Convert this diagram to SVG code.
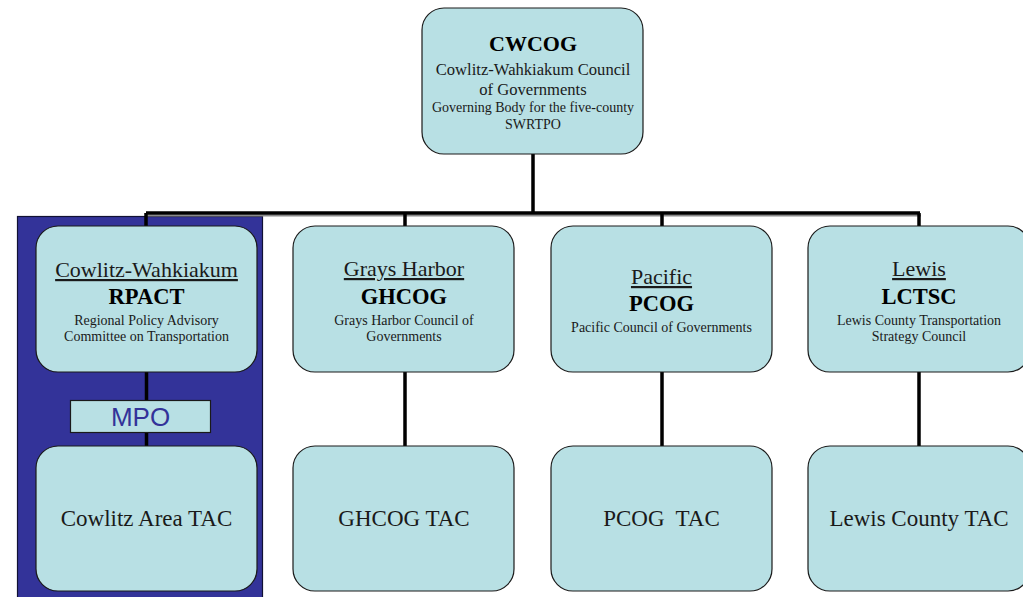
<svg xmlns="http://www.w3.org/2000/svg" width="1023" height="597" viewBox="0 0 1023 597">
<style>
.box{fill:#b8e0e4;stroke:#1a1a1a;stroke-width:1.2}
.t{font-family:"Liberation Serif","DejaVu Serif","Times New Roman",serif;fill:#1a1a1a;text-anchor:middle}
.b{font-weight:bold;font-size:22.5px;fill:#000}
.bt{font-weight:bold;font-size:22px;fill:#000}
.m{font-size:16.6px}
.u{font-size:22px;text-decoration:underline}
.s{font-size:14px}
.l{font-size:23px}
.con{stroke:#000;stroke-width:3.5;fill:none}
.sh{stroke:#8a8a8a;stroke-width:2;fill:none}
</style>
<rect width="1023" height="597" fill="#fff"/>
<g id="mpo-panel">
<rect x="17.5" y="216.5" width="245" height="385" fill="#333399" stroke="#111133" stroke-width="1.2"/>
</g>
<g id="connectors">
<path class="sh" d="M147 215.5 H921"/>
<path class="con" d="M533 154 V213 M146 213 H920 M146 213 V226 M405 213 V226 M662 213 V226 M919 213 V226"/>
<path class="con" d="M146.5 372 V446 M405 372 V446 M662 372 V446 M919 372 V446"/>
</g>
<g id="cwcog">
<rect class="box" x="422" y="8" width="221" height="146" rx="22"/>
<text class="t bt" x="533" y="51">CWCOG</text>
<text class="t m" x="533" y="75">Cowlitz-Wahkiakum Council</text>
<text class="t m" x="533" y="95">of Governments</text>
<text class="t s" x="533" y="112">Governing Body for the five-county</text>
<text class="t s" x="533" y="129">SWRTPO</text>
</g>
<g id="rpact">
<rect class="box" x="36" y="226" width="221" height="146" rx="22"/>
<text class="t u" x="146.5" y="277">Cowlitz-Wahkiakum</text>
<text class="t b" x="146.5" y="304">RPACT</text>
<text class="t s" x="146.5" y="325">Regional Policy Advisory</text>
<text class="t s" x="146.5" y="341">Committee on Transportation</text>
</g>
<g id="ghcog">
<rect class="box" x="293" y="226" width="221" height="146" rx="22"/>
<text class="t u" x="404" y="276">Grays Harbor</text>
<text class="t b" x="404" y="304">GHCOG</text>
<text class="t s" x="404" y="325">Grays Harbor Council of</text>
<text class="t s" x="404" y="341">Governments</text>
</g>
<g id="pcog">
<rect class="box" x="551" y="226" width="221" height="146" rx="22"/>
<text class="t u" x="661.5" y="284">Pacific</text>
<text class="t b" x="661.5" y="311">PCOG</text>
<text class="t s" x="661.5" y="332">Pacific Council of Governments</text>
</g>
<g id="lctsc">
<rect class="box" x="808" y="226" width="222" height="146" rx="22"/>
<text class="t u" x="919" y="276">Lewis</text>
<text class="t b" x="919" y="304">LCTSC</text>
<text class="t s" x="919" y="325">Lewis County Transportation</text>
<text class="t s" x="919" y="341">Strategy Council</text>
</g>
<g id="mpo">
<rect x="70.5" y="400.5" width="140" height="32" fill="#b8e0e4" stroke="#1a1a1a" stroke-width="1.2"/>
<text x="140.5" y="426" font-family="Liberation Sans,Arial,sans-serif" font-size="26" fill="#333399" text-anchor="middle">MPO</text>
</g>
<g id="cowlitz-tac">
<rect class="box" x="36" y="446" width="221" height="145" rx="22"/>
<text class="t l" x="146.5" y="526">Cowlitz Area TAC</text>
</g>
<g id="ghcog-tac">
<rect class="box" x="293" y="446" width="221" height="145" rx="22"/>
<text class="t l" x="404" y="526">GHCOG TAC</text>
</g>
<g id="pcog-tac">
<rect class="box" x="551" y="446" width="221" height="145" rx="22"/>
<text class="t l" x="661.5" y="526" xml:space="preserve">PCOG  TAC</text>
</g>
<g id="lewis-tac">
<rect class="box" x="808" y="446" width="222" height="145" rx="22"/>
<text class="t l" x="919" y="526">Lewis County TAC</text>
</g>
</svg>
